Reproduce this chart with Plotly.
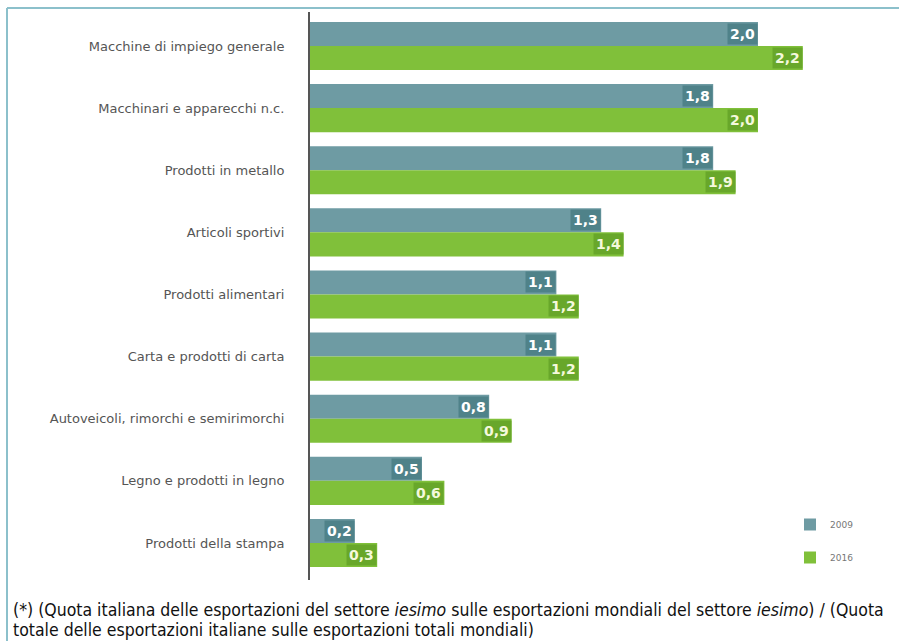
import plotly.graph_objects as go

# Sector shares of Italian exports (index)
categories = [
    "Macchine di impiego generale",
    "Macchinari e apparecchi n.c.",
    "Prodotti in metallo",
    "Articoli sportivi",
    "Prodotti alimentari",
    "Carta e prodotti di carta",
    "Autoveicoli, rimorchi e semirimorchi",
    "Legno e prodotti in legno",
    "Prodotti della stampa",
]
years = ["2009", "2016"]
values_2009 = [2.0, 1.8, 1.8, 1.3, 1.1, 1.1, 0.8, 0.5, 0.2]
values_2016 = [2.2, 2.0, 1.9, 1.4, 1.2, 1.2, 0.9, 0.6, 0.3]

footnote_lines = [
    "(*) (Quota italiana delle esportazioni del settore <i>iesimo</i> sulle esportazioni "
    "mondiali del settore <i>iesimo</i>) / (Quota",
    "totale delle esportazioni italiane sulle esportazioni totali mondiali)",
]

bar_colors = ["#6e9ba3", "#80c03a"]
label_bg = ["#4f8289", "#68a72a"]
label_fg = ["#ffffff", "#f4f9dc"]

W, H = 899, 641
M_L, M_R, M_T, M_B = 310, 40, 12, 61
plot_w = W - M_L - M_R
plot_h = H - M_T - M_B


def px_x(p):
    return (p - M_L) / plot_w


def px_y(p):
    return 1 - (p - M_T) / plot_h


fig = go.Figure()
series = [values_2009, values_2016]
for i, (yr, vals) in enumerate(zip(years, series)):
    fig.add_trace(go.Bar(
        y=categories, x=vals, orientation="h", name=yr,
        marker=dict(color=bar_colors[i], line=dict(width=0)),
        legendgroup=yr, hoverinfo="x+y",
    ))

# value labels at the end of each bar
annotations = []
for i, vals in enumerate(series):
    for cat, v in zip(categories, vals):
        annotations.append(dict(
            x=v, y=cat, xref="x", yref="y",
            text="<b>" + f"{v:.1f}".replace(".", ",") + "</b>",
            showarrow=False, xanchor="right", yanchor="middle",
            yshift=12 if i == 0 else -12,
            font=dict(family="DejaVu Sans, sans-serif", size=14, color=label_fg[i]),
            bgcolor=label_bg[i], borderpad=2,
        ))

# footnote, one annotation per line
for line, yc in zip(footnote_lines, [610, 630]):
    annotations.append(dict(
        x=px_x(11), y=px_y(yc), xref="paper", yref="paper",
        xanchor="left", yanchor="middle", align="left", showarrow=False,
        text=line,
        font=dict(family="DejaVu Sans Condensed, sans-serif", size=17.5, color="#111111"),
    ))

shapes = [
    # frame lines (top and left)
    dict(type="line", xref="paper", yref="paper", x0=px_x(7), x1=px_x(899),
         y0=px_y(8), y1=px_y(8), line=dict(color="#8cc0cb", width=2)),
    dict(type="line", xref="paper", yref="paper", x0=px_x(7), x1=px_x(7),
         y0=px_y(8), y1=px_y(641), line=dict(color="#8cc0cb", width=2)),
]

fig.update_layout(
    width=W, height=H,
    margin=dict(l=M_L, r=M_R, t=M_T, b=M_B),
    paper_bgcolor="white", plot_bgcolor="white",
    barmode="group", bargap=0.226, bargroupgap=0,
    annotations=annotations, shapes=shapes,
    showlegend=True,
    legend=dict(
        x=px_x(790), y=px_y(510), xanchor="left", yanchor="top",
        font=dict(family="DejaVu Sans, sans-serif", size=9, color="#777777"),
        tracegroupgap=14, bgcolor="rgba(0,0,0,0)", itemwidth=30,
    ),
    xaxis=dict(range=[0, plot_w / 224.0], visible=False, showgrid=False, zeroline=False),
    yaxis=dict(
        range=[8.596, -0.547], showgrid=False, zeroline=False,
        showline=True, linecolor="#555555", linewidth=2,
        ticks="", ticklabelstandoff=21,
        tickfont=dict(family="DejaVu Sans, sans-serif", size=13, color="#555555"),
    ),
)

fig.write_html("out.html")
